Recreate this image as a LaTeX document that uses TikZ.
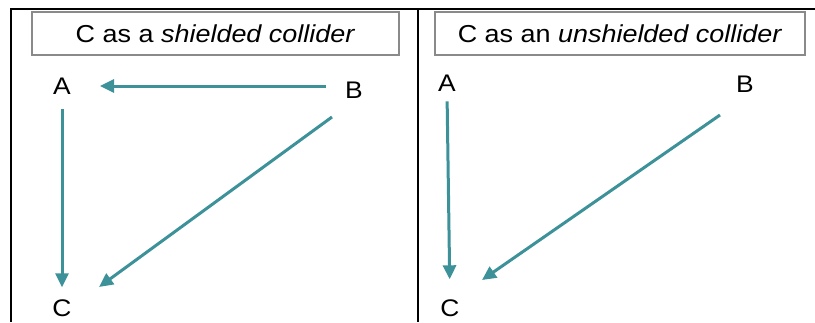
\documentclass[tikz,border=0pt]{standalone}
\usepackage{fontspec}
\setmainfont[FakeStretch=1.1]{Liberation Sans}
\usepackage{xcolor}
\usepackage{tikz}
\usetikzlibrary{calc,positioning,arrows.meta}
\definecolor{colliderTeal}{HTML}{3D9199}
\definecolor{frameGray}{HTML}{8A8A8A}

\begin{document}
\begin{tikzpicture}[
    x=1pt, y=-1pt,
    titlebox/.style={draw=frameGray, line width=1.2pt, minimum width=367pt, minimum height=43pt, inner sep=0pt, align=center, font=\fontsize{24.5}{28}\selectfont},
    var/.style={inner sep=0pt, font=\fontsize{24}{28}\selectfont},
    frame/.style={draw=black, line width=2pt},
    arr/.style={-{Triangle[length=14pt, width=13pt]}, line width=3pt, draw=colliderTeal}
]
\useasboundingbox (0,0) rectangle (815,322);
% Frame
\draw[frame] (10,8.5) -- (815,8.5);
\draw[frame] (11,8.5) -- (11,322);
\draw[frame] (418,8.5) -- (418,322);
% Titles
\node[titlebox] (shtitle) at (215.5,33.5) {C as a \textit{shielded collider}};
\node[titlebox, minimum width=370pt] (untitle) at (620,33.5) {C as an \textit{unshielded collider}};
% Nodes (shielded)
\node[var] (A1) at (62,86) {A};
\node[var] (B1) at (354,90) {B};
\node[var] (C1) at (62,308.5) {C};
% Nodes (unshielded)
\node[var] (A2) at (447,83) {A};
\node[var] (B2) at (745,84) {B};
\node[var] (C2) at (450,308.5) {C};
% Arrows (shielded)
\draw[arr, shorten <=19pt, shorten >=29pt] (B1.west |- A1.east) -- (A1.east);
\draw[arr, shorten <=15pt, shorten >=12.5pt] (A1.south) -- (C1.north);
\draw[arr] ([shift={(-22,27)}]B1.center) -- ([shift={(37,-21.5)}]C1.center);
% Arrows (unshielded)
\draw[arr, shorten <=10pt, shorten >=20.5pt] (A2.south) -- (C2.north);
\draw[arr] ([shift={(-25,31)}]B2.center) -- ([shift={(32,-28.5)}]C2.center);
\end{tikzpicture}
\end{document}
